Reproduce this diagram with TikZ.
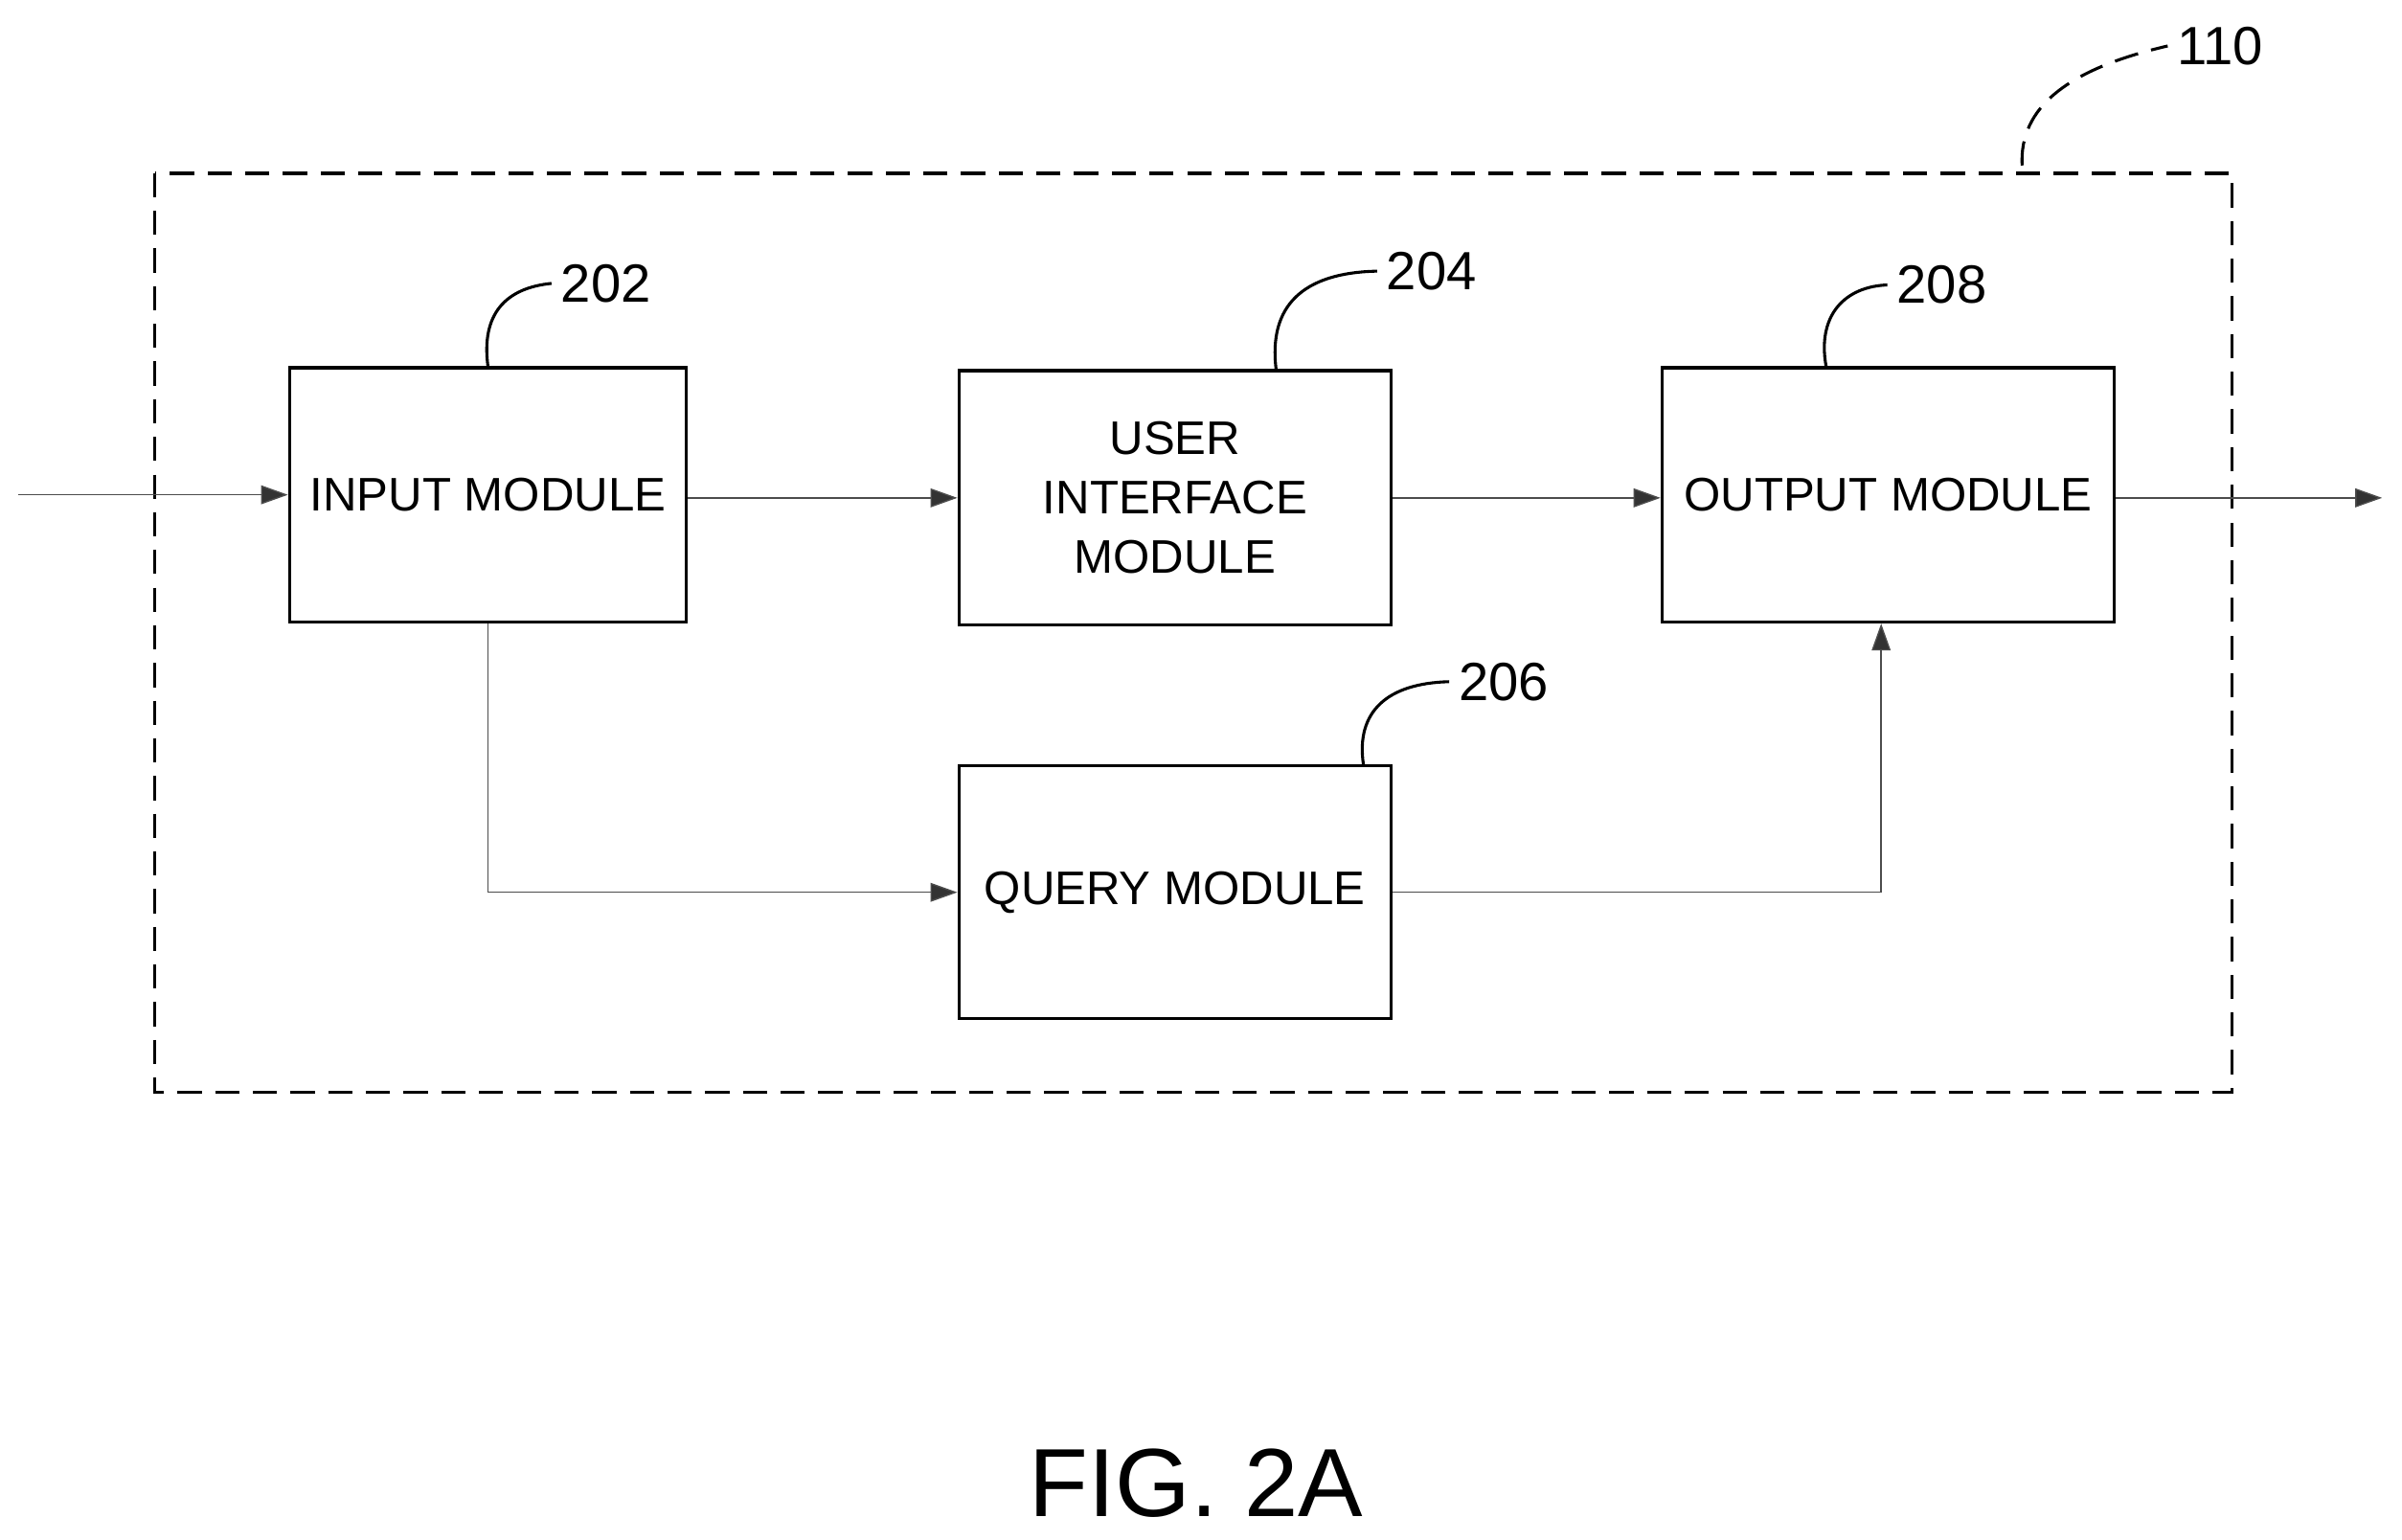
\documentclass[tikz,border=0pt]{standalone}
\usepackage{fontspec}
\setmainfont{Liberation Sans}
\usetikzlibrary{arrows.meta}
\begin{document}
\begin{tikzpicture}[x=0.02cm,y=-0.02cm,
  box/.style={draw,line width=1.2pt,minimum width=#1,inner sep=0pt,align=center,font=\fontsize{17.5}{22}\selectfont},
  conn/.style={draw=black!70,line width=0.5pt,-{Triangle[length=10pt,width=7pt,fill=black!80]}},
  lead/.style={line width=1.1pt},
  num/.style={font=\fontsize{20}{24}\selectfont,anchor=west}]
\useasboundingbox (0,0) rectangle (1568,1005);
\draw[line width=1.3pt,dash pattern=on 9pt off 5pt] (101,113) rectangle (1457,713);
\node[box,minimum width=259*0.02cm,minimum height=166*0.02cm] (in) at (318.5,323) {INPUT MODULE};
\node[box,minimum width=282*0.02cm,minimum height=166*0.02cm] (ui) at (767,325) {USER\\INTERFACE\\MODULE};
\node[box,minimum width=295*0.02cm,minimum height=166*0.02cm] (out) at (1232.5,323) {OUTPUT MODULE};
\node[box,minimum width=282*0.02cm,minimum height=165*0.02cm] (q) at (767,582.5) {QUERY MODULE};
\coordinate (src) at (12,323);
\coordinate (dst) at (1555,325);
\draw[conn] (src) -- (in.west);
\draw[conn] (in.east |- 0,325) -- (ui.west |- 0,325);
\draw[conn] (ui.east |- 0,325) -- (out.west |- 0,325);
\draw[conn] (out.east |- 0,325) -- (dst);
\draw[conn] (in.south) |- (q.west);
\draw[conn,draw=black!70] (q.east) -| (out.south -| 1228,0);
\node[num] (n202) at (360,185) {202};
\node[num] (n204) at (899,177) {204};
\node[num] (n208) at (1232,186) {208};
\node[num] (n206) at (946,445) {206};
\node[num] (n110) at (1415,30) {110};
\node[font=\fontsize{36}{40}\selectfont] (fig) at (781,968) {FIG. 2A};
\draw[lead] (in.north) .. controls (314,205) and (330,188) .. (n202.west);
\draw[lead] (ui.north -| 833,0) .. controls (828,200) and (850,178) .. (n204.west);
\draw[lead] (out.north -| 1192,0) .. controls (1186,205) and (1205,187) .. (n208.west);
\draw[lead] (q.north -| 890,0) .. controls (885,465) and (905,446) .. (n206.west);
\draw[lead,dash pattern=on 9pt off 5pt] (1320,108) .. controls (1318,70) and (1350,45) .. (n110.west);
\end{tikzpicture}
\end{document}
